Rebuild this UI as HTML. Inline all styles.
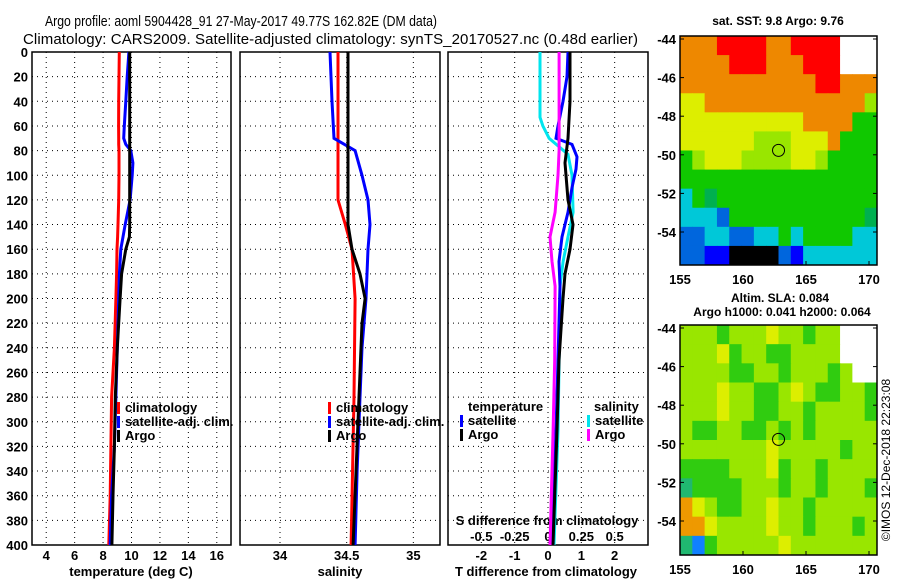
<!DOCTYPE html>
<html><head><meta charset="utf-8"><style>
body{margin:0;background:#fff}
svg{display:block;font-family:"Liberation Sans",sans-serif;font-weight:bold}
</style></head><body>
<svg id="s" width="900" height="580" viewBox="0 0 900 580">
<text x="241" y="26" font-size="14.5" font-weight="normal" text-anchor="middle" textLength="392" lengthAdjust="spacingAndGlyphs">Argo profile: aoml 5904428_91 27-May-2017 49.77S 162.82E (DM data)</text>
<text x="23" y="44" font-size="15" font-weight="normal" textLength="615">Climatology: CARS2009. Satellite-adjusted climatology: synTS_20170527.nc (0.48d earlier)</text>
<text x="778" y="25" font-size="12" text-anchor="middle">sat. SST: 9.8 Argo: 9.76</text>
<text x="780" y="302" font-size="12" text-anchor="middle">Altim. SLA: 0.084</text>
<text x="782" y="316" font-size="12" text-anchor="middle">Argo h1000: 0.041 h2000: 0.064</text>
<text transform="translate(890,460) rotate(-90)" font-size="12" font-weight="normal" text-anchor="middle">©IMOS 12-Dec-2018 22:23:08</text>
<g id="g"></g>
</svg>
<script>
const depthTicks=[0,20,40,60,80,100,120,140,160,180,200,220,240,260,280,300,320,340,360,380,400];
const tTicks=[4,6,8,10,12,14,16];
const sTicks=[34,34.5,35];
const dTicks=[-2,-1,0,1,2];
const dsTicks=[-0.5,-0.25,0,0.25,0.5];
const dsTickLabels=["-0.5","-0.25","0","0.25","0.5"];
const tDepth=[0,20,40,60,70,75,80,90,100,120,140,150,160,180,200,240,280,320,360,400];
const tClim=[9.14,9.12,9.1,9.09,9.1,9.1,9.12,9.12,9.12,9.1,9.05,9.02,8.98,8.95,8.9,8.8,8.6,8.55,8.5,8.4];
const tSat=[9.82,9.7,9.6,9.49,9.45,9.6,9.95,10.1,10.05,9.9,9.56,9.4,9.25,9.15,9.1,9.0,8.9,8.8,8.6,8.5];
const tArgo=[9.87,9.87,9.87,9.87,9.87,9.87,9.87,9.87,9.87,9.87,9.87,9.85,9.6,9.3,9.2,9.0,8.86,8.8,8.7,8.62];
const sClimDepth=[0,120,140,160,200,280,400];
const sClim=[34.435,34.435,34.49,34.54,34.563,34.555,34.533];
const sSatDepth=[0,40,70,80,100,120,140,160,200,240,280,340,400];
const sSat=[34.375,34.39,34.405,34.563,34.615,34.66,34.675,34.66,34.645,34.615,34.6,34.578,34.563];
const sArgoDepth=[0,140,160,180,200,220,260,300,400];
const sArgo=[34.51,34.51,34.54,34.6,34.638,34.615,34.6,34.585,34.548];
const dtSatDepth=[0,20,40,60,70,75,85,95,110,130,150,170,190,250,307,400];
const dtSat=[0.6,0.57,0.45,0.30,0.24,0.72,0.87,0.84,0.72,0.60,0.42,0.33,0.36,0.3,0.24,0.09];
const dtArgoDepth=[0,40,70,90,120,140,160,180,200,250,307,400];
const dtArgo=[0.66,0.66,0.60,0.51,0.60,0.75,0.66,0.51,0.45,0.33,0.27,0.15];
const dsSatDepth=[0,53,60,70,83,100,130,150,170,190,210,250,307,400];
const dsSat=[-0.06,-0.06,-0.038,0.008,0.15,0.18,0.188,0.15,0.113,0.09,0.09,0.083,0.075,0.045];
const dsArgoDepth=[0,80,100,130,150,170,190,250,307,400];
const dsArgo=[0.083,0.083,0.075,0.053,0.015,0.03,0.053,0.05,0.038,0.015];
const sstGrid=["OOORRRROORRRRWWW","OOOORRROOORRRWWW","OOOOOOOOOOORROOO","YYOOOOOOOOOOOOOL","YYYYYYYYYYOOOOGG","YYYYYYLLLYYYOGGG","GLYYYLLLLYYLGGGG","GGGGGGGGGGGGGGGG","CGgGGGGGGGGGGGGG","CCCBGGGGGGGGGGGg","BBCCBBCCGCGGGGCC","BBbbKKKKBbCCCCCC"];
const slaGrid=["LLLGLLLYLLGLLWWW","LLLYGLLGGLLLLWWW","LLLLGGLLGLLLGLWW","LLLYLLGGLYLGGLLG","LLLYLLGGLLGLLLLG","LGGLLGGLGLGLLLLL","LLLLLLLYLLLLLGLL","GGGGLLLYGLLGLLLL","CGGGGLLLGLLGLLLG","OYLGGLLYLLGLLLLL","OOYLLLLYLLGLLLGL","CBGLLLLLYLLLLLLL"];
const mapLon=[155,160,165,170];
const mapLat=[-44,-46,-48,-50,-52,-54];
const argoLon=162.82, argoLat=-49.77;

const NS="http://www.w3.org/2000/svg";
const G=document.getElementById('g');
function mk(t,a,p){const e=document.createElementNS(NS,t);for(const k in a)e.setAttribute(k,a[k]);(p||G).appendChild(e);return e;}
const Y0=52,Y1=545;
const yD=d=>Y0+(d/400)*(Y1-Y0);
const panels=[{x0:32,x1:231,lo:3,hi:17},{x0:240,x1:440,lo:33.7,hi:35.2},{x0:448,x1:648,lo:-3,hi:3}];
panels.forEach(p=>p.sx=v=>p.x0+(v-p.lo)/(p.hi-p.lo)*(p.x1-p.x0));
const ds=v=>panels[2].sx(v*4);
function grid(p,xt){
  depthTicks.forEach(d=>{if(d>0&&d<400){const l=mk('line',{x1:p.x0,x2:p.x1,y1:yD(d),y2:yD(d),stroke:'#000','stroke-dasharray':'1 4'});

}});
  xt.forEach(v=>{const x=p.sx(v);const l=mk('line',{x1:x,x2:x,y1:Y0,y2:Y1,stroke:'#000','stroke-dasharray':'1 4'});

});
  const r=mk('rect',{x:p.x0,y:Y0,width:p.x1-p.x0,height:Y1-Y0,fill:'none',stroke:'#000','stroke-width':1.5});


}
grid(panels[0],tTicks);grid(panels[1],sTicks);grid(panels[2],dTicks);
depthTicks.forEach(d=>{const t=mk('text',{x:28,y:yD(d)+5,'font-size':13,'text-anchor':'end'});t.textContent=d;

});
function xl(p,vals,labs,y){vals.forEach((v,i)=>{const t=mk('text',{x:p.sx?p.sx(v):v,y:y,'font-size':13,'text-anchor':'middle'});t.textContent=labs?labs[i]:v;

});}
xl(panels[0],tTicks,null,560);xl(panels[1],sTicks,null,560);xl(panels[2],dTicks,null,560);
dsTicks.forEach((v,i)=>{const t=mk('text',{x:ds(v),y:541,'font-size':13,'text-anchor':'middle'});t.textContent=dsTickLabels[i];

});
[[131,'temperature (deg C)','temperature-axis-title'],[340,'salinity','salinity-axis-title'],[546,'T difference from climatology','t-diff-axis-title']].forEach(a=>{const t=mk('text',{x:a[0],y:576,'font-size':13,'text-anchor':'middle'});t.textContent=a[1];

});
const st=mk('text',{x:547,y:525,'font-size':13,'text-anchor':'middle'});st.textContent='S difference from climatology';


function line(depths,vals,sx,col,name){const pts=depths.map((d,i)=>sx(vals[i]).toFixed(1)+','+yD(d).toFixed(1)).join(' ');
const l=mk('polyline',{points:pts,fill:'none',stroke:col,'stroke-width':3});

}
line(tDepth,tClim,panels[0].sx,'#ff0000','temp-climatology-line');
line(tDepth,tSat,panels[0].sx,'#0000ff','temp-satellite-line');
line(tDepth,tArgo,panels[0].sx,'#000','temp-argo-line');
line(sClimDepth,sClim,panels[1].sx,'#ff0000','sal-climatology-line');
line(sSatDepth,sSat,panels[1].sx,'#0000ff','sal-satellite-line');
line(sArgoDepth,sArgo,panels[1].sx,'#000','sal-argo-line');
line(dsSatDepth,dsSat,ds,'#00e5ee','sdiff-satellite-line');
line(dtSatDepth,dtSat,panels[2].sx,'#0000ff','tdiff-satellite-line');
line(dtArgoDepth,dtArgo,panels[2].sx,'#000','tdiff-argo-line');
line(dsArgoDepth,dsArgo,ds,'#ff00ff','sdiff-argo-line');
function leg(x,y,col,txt,name){const r=mk('rect',{x:x,y:y-10,width:3,height:12,fill:col});


const t=mk('text',{x:x+8,y:y,'font-size':13});t.textContent=txt;

}
leg(117,412,'#ff0000','climatology','legend-climatology');
leg(117,426,'#0000ff','satellite-adj. clim.','legend-satellite-adj');
leg(117,440,'#000','Argo','legend-argo');
leg(328,412,'#ff0000','climatology','legend-sal-climatology');
leg(328,426,'#0000ff','satellite-adj. clim.','legend-sal-satellite-adj');
leg(328,440,'#000','Argo','legend-sal-argo');
const th=mk('text',{x:468,y:411,'font-size':13});th.textContent='temperature';


const sh=mk('text',{x:594,y:411,'font-size':13});sh.textContent='salinity';


leg(460,425,'#0000ff','satellite','legend-tdiff-satellite');
leg(460,439,'#000','Argo','legend-tdiff-argo');
leg(587,425,'#00e5ee','satellite','legend-sdiff-satellite');
leg(587,439,'#ff00ff','Argo','legend-sdiff-argo');
const COL={R:'#ff0000',O:'#ee8800',Y:'#ddee00',L:'#99e600',G:'#10c800',g:'#00b050',C:'#00c8d8',B:'#0066dd',b:'#0000ff',K:'#000',W:'#ffffff'};
const MX0=680,MX1=877;
const lonX=l=>680+(l-155)*12.6;
function map(gridRows,top,bot,name,colMap){
  const latY=la=>top+3+(-44-la)*19.3;
  const cw=(MX1-MX0)/gridRows[0].length,ch=(bot-top)/gridRows.length;
  gridRows.forEach((row,r)=>{[...row].forEach((c,k)=>{const e=mk('rect',{x:MX0+k*cw,y:top+r*ch,width:cw+0.5,height:ch+0.5,fill:colMap[c]});

});});
  const f=mk('rect',{x:MX0,y:top,width:MX1-MX0,height:bot-top,fill:'none',stroke:'#000','stroke-width':1.5});


  mapLat.forEach(la=>{const t=mk('text',{x:676,y:latY(la)+5,'font-size':13,'text-anchor':'end'});t.textContent=la;


mk('line',{x1:MX0,x2:MX0+4,y1:latY(la),y2:latY(la),stroke:'#000'});mk('line',{x1:MX1-4,x2:MX1,y1:latY(la),y2:latY(la),stroke:'#000'});});
  mapLon.forEach(lo=>{const t=mk('text',{x:lonX(lo),y:bot+19,'font-size':13,'text-anchor':'middle'});t.textContent=lo;


mk('line',{x1:lonX(lo),x2:lonX(lo),y1:bot-4,y2:bot,stroke:'#000'});});
  const c=mk('circle',{cx:lonX(argoLon),cy:latY(argoLat),r:6,fill:'none',stroke:'#000','stroke-width':1});


}
map(sstGrid,36,265,'sst-map',COL);
map(slaGrid,325,555,'sla-map',Object.assign({},COL,{G:'#30cc10',C:'#20b870',O:'#ee9900',B:'#1080ff'}));
</script>
</body></html>
